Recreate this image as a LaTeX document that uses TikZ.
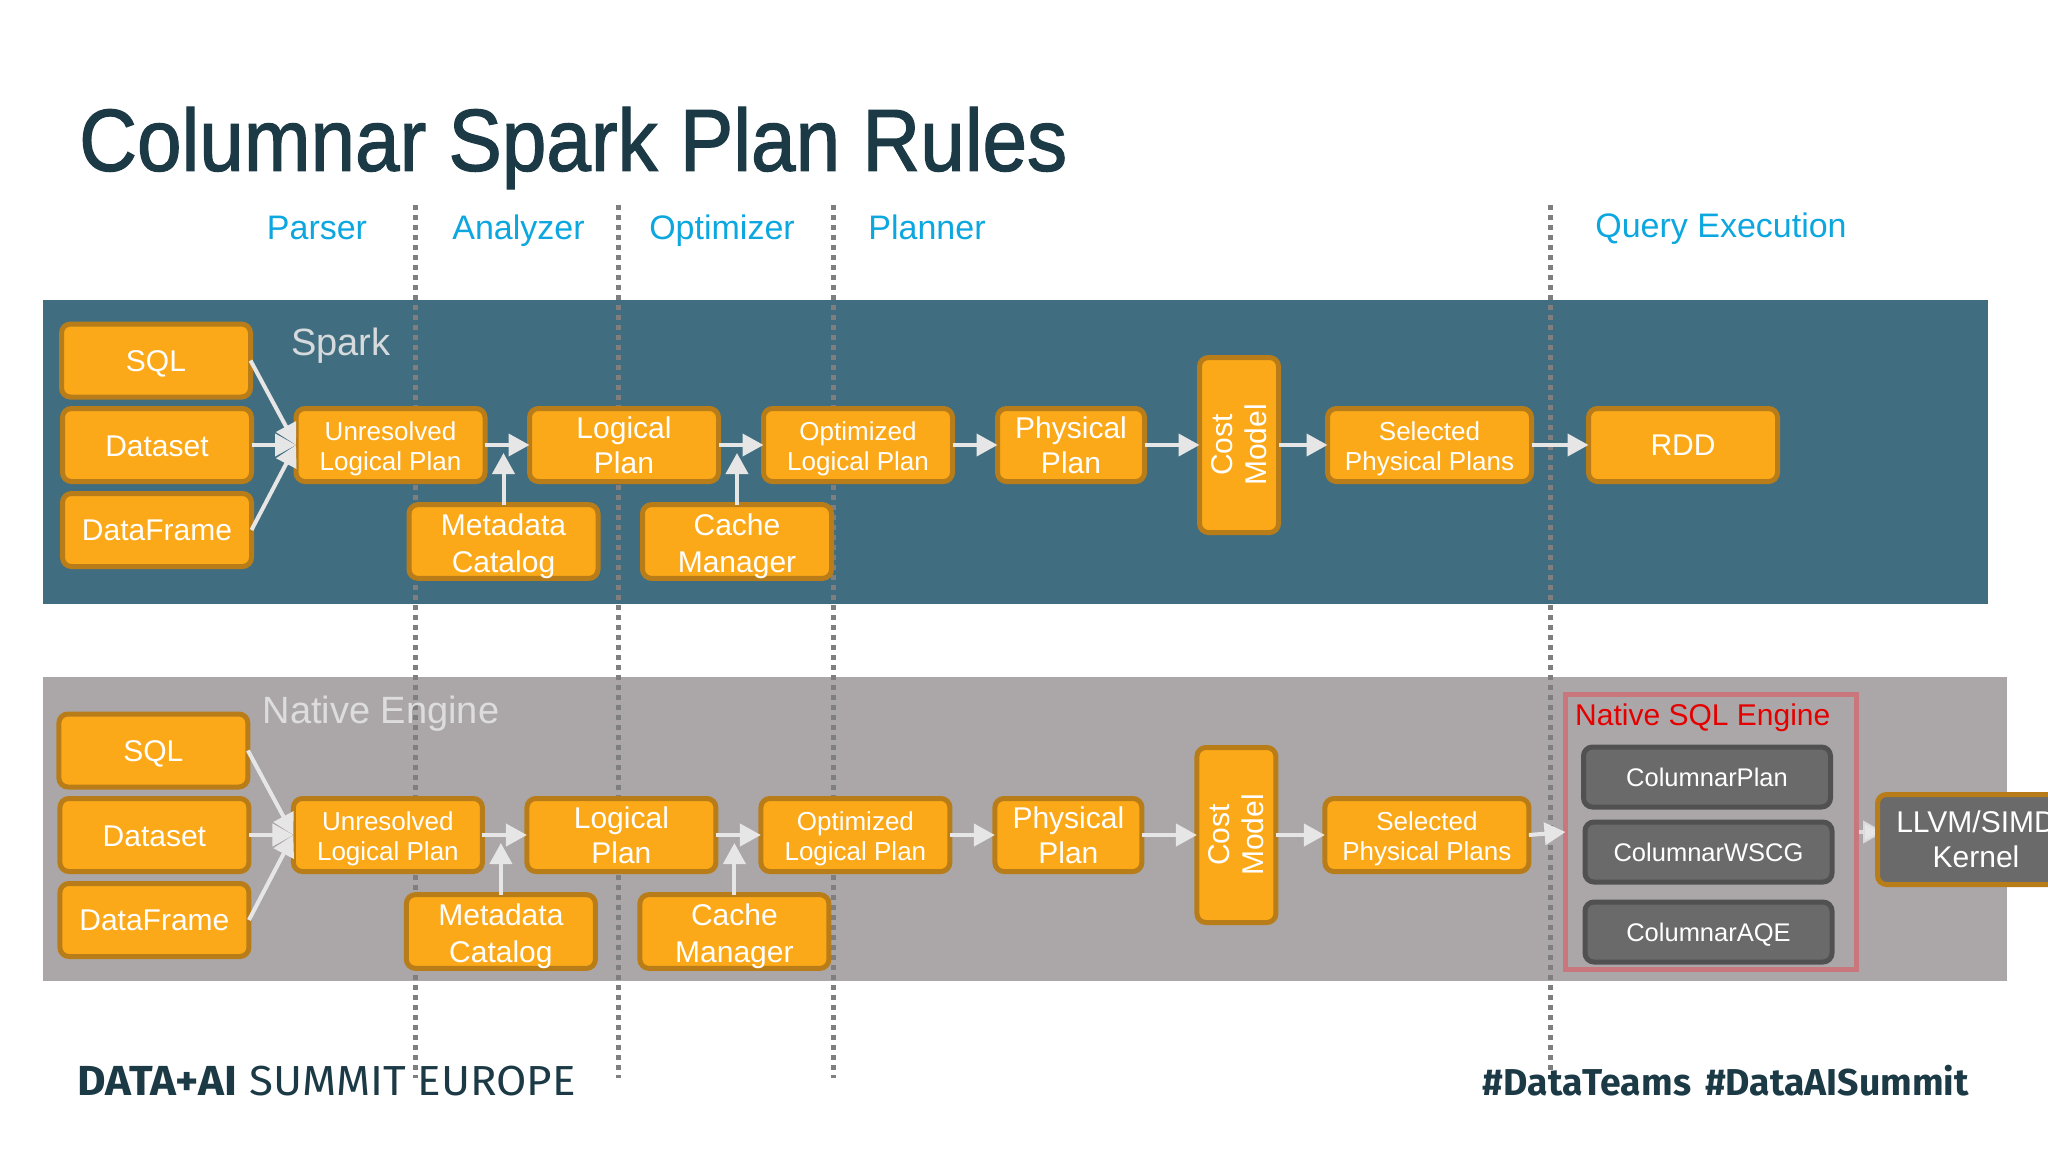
\documentclass[tikz,border=0pt]{standalone}
\usepackage{fontspec}
\setmainfont{Liberation Sans}
\newfontfamily\brandfont{Fira Sans}
\newfontfamily\titlefont[FakeBold=1.5]{Liberation Sans}
\usetikzlibrary{arrows.meta}
\definecolor{sparkband}{HTML}{406E80}
\definecolor{nativeband}{HTML}{ABA7A8}
\definecolor{boxfill}{HTML}{FCA919}
\definecolor{boxedge}{HTML}{B87D18}
\definecolor{greyfill}{HTML}{6B6A6B}
\definecolor{greyedge}{HTML}{525152}
\definecolor{arrowgrey}{HTML}{E7E6E6}
\definecolor{dotgrey}{HTML}{7F7F7F}
\definecolor{headblue}{HTML}{0DA7E0}
\definecolor{darkslate}{HTML}{1B3A46}
\definecolor{redframe}{HTML}{C9767C}
\pgfdeclarelayer{back}
\pgfdeclarelayer{mid}
\pgfsetlayers{back,mid,main}
\newcommand{\firsth}[1]{\rule{0pt}{#1pt}}
\tikzset{
  planbox/.style={draw=boxedge,fill=boxfill,line width=5pt,rounded corners=9pt,inner sep=0pt,outer sep=0pt,
     text=white,align=center,font=\fontsize{30}{35}\selectfont},
  smalltext/.style={font=\fontsize{26}{30}\selectfont},
  catalogtext/.style={font=\fontsize{30}{36.5}\selectfont},
  rowbox/.style={planbox,minimum width=189pt,minimum height=73pt},
  greybox/.style={draw=greyedge,fill=greyfill,line width=5pt,rounded corners=9pt,inner sep=0pt,outer sep=0pt,
     text=white,align=center,minimum width=247pt,minimum height=60pt,font=\fontsize{25.5}{30}\selectfont},
  flow/.style={draw=arrowgrey,line width=4pt,-{Triangle[length=21pt,width=22pt,fill=arrowgrey]}},
  dotline/.style={draw=dotgrey,line width=5pt,dash pattern=on 5pt off 5pt},
  phase/.style={text=headblue,font=\fontsize{34}{40}\selectfont,text height=25pt,text depth=8pt,inner sep=0pt},
}
\newcommand{\planrow}[1]{%
  \node[rowbox] (#1sql) at (156,360.5) {\firsth{28}SQL};
  \node[rowbox] (#1dataset) at (157,445) {\firsth{24}Dataset};
  \node[rowbox] (#1dataframe) at (157,530) {DataFrame};
  \node[rowbox,smalltext] (#1unres) at (390.5,445) {\firsth{26.6}Unresolved\\Logical Plan};
  \node[rowbox] (#1logical) at (624,445) {Logical\\Plan};
  \node[rowbox,smalltext] (#1optim) at (858,445) {\firsth{26.6}Optimized\\Logical Plan};
  \node[rowbox,minimum width=147pt] (#1phys) at (1071,445) {Physical\\Plan};
  \node[planbox,minimum width=79pt,minimum height=175pt] (#1cost) at (1239,445)
     {\hspace*{7pt}\rotatebox{90}{\begin{tabular}{@{}c@{}}Cost\\[-1pt]Model\end{tabular}}};
  \node[rowbox,smalltext,minimum width=204pt] (#1sel) at (1429.5,445) {\firsth{26.6}Selected\\Physical Plans};
  \node[rowbox,catalogtext] (#1meta) at (503.5,541.5) {\firsth{31}Metadata\\Catalog};
  \node[rowbox,catalogtext] (#1cache) at (737,541.5) {\firsth{31}Cache\\Manager};
  \coordinate (#1metatip) at (503.5,453);
  \coordinate (#1cachetip) at (737,453);
  \draw[flow] (#1sql.east) -- (#1unres.west);
  \draw[flow] (#1dataset.east) -- (#1unres.west);
  \draw[flow] (#1dataframe.east) -- (#1unres.west);
  \draw[flow] (#1unres.east) -- (#1logical.west);
  \draw[flow] (#1logical.east) -- (#1optim.west);
  \draw[flow] (#1optim.east) -- (#1phys.west);
  \draw[flow] (#1phys.east) -- (#1cost.west);
  \draw[flow] (#1cost.east) -- (#1sel.west);
  \draw[flow] (#1meta.north) -- (#1metatip);
  \draw[flow] (#1cache.north) -- (#1cachetip);
}
\begin{document}
\begin{tikzpicture}[x=1pt,y=-1pt]
\useasboundingbox (0,0) rectangle (2048,1152);
\begin{pgfonlayer}{back}
  \fill[white] (0,0) rectangle (2048,1152);
  \fill[sparkband] (43,300) rectangle (1988,604);
  \fill[nativeband] (43,677) rectangle (2007,981);
\end{pgfonlayer}
\begin{pgfonlayer}{mid}
  \foreach \n/\lx in {a/415,b/618,c/833,d/1550}{
    \coordinate (dot\n top) at (\lx,205);
    \coordinate (dot\n bot) at (\lx,1078);
    \draw[dotline] (dot\n top) -- (dot\n bot);
  }
\end{pgfonlayer}

\node[anchor=west,text=darkslate,font=\titlefont\fontsize{88}{96}\selectfont,inner sep=0pt] (title) at (79,148) {\scalebox{0.91}[1]{Columnar Spark Plan Rules}};

\node[phase] (parser) at (317,230.5) {Parser};
\node[phase] (analyzer) at (518.5,230.5) {Analyzer};
\node[phase] (optimizer) at (722,230.5) {Optimizer};
\node[phase] (planner) at (927,230.5) {Planner};
\node[phase] (queryexec) at (1721,228.5) {Query Execution};

\node[text=arrowgrey!90!sparkband,font=\fontsize{38}{44}\selectfont] (sparklabel) at (341,346) {Spark};
\node[text=arrowgrey!85!nativeband,font=\fontsize{38}{44}\selectfont] (nativelabel) at (381,714) {Native Engine};

\planrow{s}
\node[rowbox] (rdd) at (1683,445) {RDD};
\draw[flow] (ssel.east) -- (rdd.west);

\begin{scope}[shift={(-2.6,390)}]
\planrow{n}
\end{scope}

\node[draw=redframe,line width=5pt,minimum width=291pt,minimum height=275pt,inner sep=0pt,outer sep=0pt] (redbox) at (1711,832) {};
\node[anchor=west,text=red!90!black,inner sep=0pt,font=\fontsize{30}{35}\selectfont] (redlabel) at (1575,717.5) {Native SQL Engine};
\node[greybox] (cplan) at (1707,777) {ColumnarPlan};
\node[greybox] (cwscg) at (1708.5,852) {ColumnarWSCG};
\node[greybox] (caqe) at (1708.5,932) {\firsth{24.5}ColumnarAQE};
\draw[flow] (nsel.east) -- (redbox.west);

\node[planbox,fill=greyfill,minimum width=197pt,minimum height=90pt] (llvm) at (1976,839.5) {LLVM/SIMD\\Kernel};
\begin{pgfonlayer}{mid}
  \coordinate (llvmin) at (1884,832);
  \draw[flow,draw opacity=.8] (redbox.east) -- (llvmin);
\end{pgfonlayer}

\node[anchor=west,text=darkslate,inner sep=0pt,font=\brandfont\fontsize{42}{48}\selectfont] (brand) at (77,1081) {\scalebox{1.045}[1]{\textbf{DATA+AI} SUMMIT EUROPE}};
\node[anchor=east,text=darkslate,inner sep=0pt,font=\brandfont\bfseries\fontsize{37.4}{42}\selectfont] (tags) at (1969,1081) {\#DataTeams\hspace{14pt}\#DataAISummit};
\end{tikzpicture}
\end{document}
